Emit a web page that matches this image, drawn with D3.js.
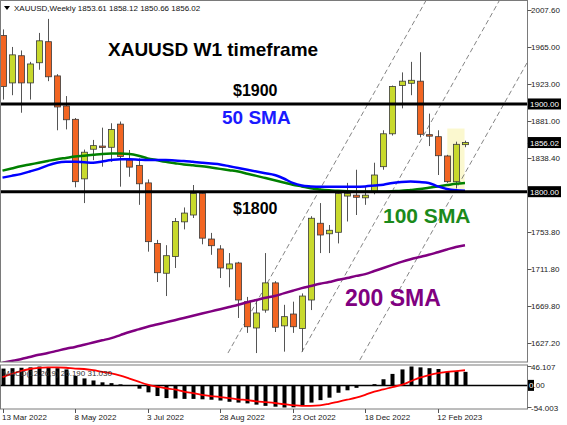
<!DOCTYPE html>
<html><head><meta charset="utf-8">
<script src="https://cdn.jsdelivr.net/npm/d3@7"></script>
<style>body{margin:0;background:#fff}svg{display:block}text{font-family:"Liberation Sans",Arial,sans-serif}</style>
</head><body>
<svg id="c" width="567" height="425"></svg>
<script>
// ---- data (weekly XAUUSD, 13 Mar 2022 .. 5 Mar 2023) ----
const openP  = [1978,1924,1955,1924,1947,1971,1932,1897.7,1882.5,1814.6,1848.4,1852,1850.6,1877,1836,1830,1810,1741,1707,1726,1765.6,1773.4,1798,1746,1734.7,1712,1718.7,1674.6,1644.6,1665,1696,1647,1660.5,1644,1676.5,1764,1752,1753.7,1795,1796,1793,1800,1828.5,1866,1921,1923.6,1926,1865,1862.7,1840.7,1811.4,1853.61];
const highP  = [1985,1965,1961,1948,1981,1997,1934,1909,1884,1848,1859,1873,1878,1880,1847.5,1838,1814,1745,1739,1770,1782,1807.6,1800,1753,1739,1730,1720,1680,1676,1730,1698,1671,1674.6,1684,1772,1787,1762,1800,1810,1825,1806,1833,1870,1921,1936,1948,1959,1889,1870,1842,1857,1858.12];
const lowP   = [1905,1910,1890,1905,1939,1926,1870,1871,1805,1787,1836,1828.5,1834,1805.7,1817,1785,1731.6,1697,1681,1713,1757,1770,1740,1728,1701.6,1691,1656,1639,1616,1662,1640,1617.6,1639,1617.6,1665,1730,1730,1741,1766,1773.4,1785,1797,1825,1864,1895,1910,1862,1852,1819,1810,1804,1850.66];
const closeP = [1920,1956,1924,1945.6,1972,1931,1896.6,1882,1811.4,1845,1852.5,1851,1871,1840,1828,1809,1743,1707.6,1727,1766,1775.6,1798,1747,1738.4,1713,1717.6,1676.5,1646,1661.7,1696,1645.4,1657.5,1646,1681,1769.7,1750.6,1756,1798,1798,1793.6,1796,1819,1866,1920,1926,1927,1865.4,1864,1841,1811.4,1854,1856.02];
const sma50  = [1816,1818,1820,1823,1826,1830,1833,1834,1834,1833.5,1833,1834.5,1836,1837,1837,1836.5,1836,1836,1836,1835.5,1835,1834,1833,1832,1831,1829,1827,1825,1823,1821,1819,1815,1810,1807,1806,1805.5,1805.5,1805.5,1805.5,1805.5,1806,1807,1808,1810,1811,1811.5,1811,1810,1806,1803,1801.5,1801];
const sma100 = [1824,1826.5,1829,1831,1833,1835,1837,1838.5,1840,1841,1842,1843,1843.5,1843.5,1843,1841,1838,1836,1834,1832.5,1831,1830,1829,1827.5,1826,1824.5,1823,1820.5,1818,1815.5,1813,1810.5,1808,1806,1804,1802.5,1801.5,1801,1800.5,1800,1800,1800,1800,1800.5,1801,1802,1803,1804.5,1806,1807.5,1809,1810];
const sma200 = [1605,1607,1609,1611.5,1614,1616,1618.5,1621,1623,1625.5,1628,1630.5,1633,1636.5,1640,1643,1646,1648.5,1651,1653.5,1656,1658.5,1661,1663.5,1666,1668.5,1671,1674,1676.5,1679,1681,1684,1687,1690,1692.5,1695,1697,1699.5,1701.5,1704,1706,1709.5,1713,1716.5,1720,1723,1725.5,1728,1731,1734,1737,1739];
const macdHist = [41,42,43,44,46,44,42,39,23,17,12,7.5,5.5,2.5,-1.5,-8,-17,-26,-31,-32,-33,-33,-34,-35,-37,-40,-42,-44,-47,-50,-52,-54.003,-53.5,-48,-42,-36,-30,-18,-12,-6,-1.5,3,15,28,39,46.107,44,42,40,33,35,33];
const macdSignal = [20,28,35,40,43,44,44,43,41,40,37,33,29.5,24,16.6,9,2,-3,-7,-10,-15,-19,-23,-26,-28.5,-31,-34,-36,-39,-41,-43,-46,-48,-50,-50,-49,-45,-40,-35,-30,-23,-15,-10,-4,1,10,19,25,30,33,35,37];
const dateTickIdx = [0,8,16,24,32,40,48];
const dateTickLabels = ["13 Mar 2022","8 May 2022","3 Jul 2022","28 Aug 2022","23 Oct 2022","18 Dec 2022","12 Feb 2023"];
const priceTicks = [2007.60,1965.00,1923.00,1881.00,1838.40,1753.80,1711.80,1669.80,1627.20];
const priceMarked = [1900.00,1856.02,1800.00];
const levelLines = [1900,1800];
const macdTicks = [46.107,-54.003];
// channel lines: [startIdx,startPrice,endIdx,endPrice]
const channelLines = [[24.86,1616,46.7,2018],[33,1617,54.9,2020],[39.4,1608,57.9,1948]];
const highlightBox = [49.05,50.95,1872,1801];

// ---- layout ----
const svg = d3.select('#c');
const L=0.5, R=527.5, T=0.5, B=362;
const MT=365, MB=409;
const x = d3.scaleLinear().domain([0,51]).range([2.5,465]);
const y = d3.scaleLinear().domain([1605.8,2017.4]).range([362,1]);
const ym = d3.scaleLinear().domain([-54.003,46.107]).range([407.5,366.5]);
const bull='#c8d92c', bear='#f26522';

svg.append('rect').attr('width',567).attr('height',425).attr('fill','#fff');
const defs=svg.append('defs');
defs.append('clipPath').attr('id','cp').append('rect').attr('x',L).attr('y',T).attr('width',R-L).attr('height',B-T);
defs.append('clipPath').attr('id','cpm').append('rect').attr('x',L).attr('y',MT).attr('width',R-L).attr('height',MB-MT);

const g = svg.append('g').attr('clip-path','url(#cp)');
g.append('rect').attr('x',x(highlightBox[0])).attr('width',x(highlightBox[1])-x(highlightBox[0]))
 .attr('y',y(highlightBox[2])).attr('height',y(highlightBox[3])-y(highlightBox[2])).attr('fill','#fbf8cf');
g.selectAll('.ch').data(channelLines).enter().append('line')
 .attr('x1',d=>x(d[0])).attr('y1',d=>y(d[1])).attr('x2',d=>x(d[2])).attr('y2',d=>y(d[3]))
 .attr('stroke','#777').attr('stroke-width',0.9).attr('stroke-dasharray','5,3');
const idx=d3.range(openP.length);
g.selectAll('.wk').data(idx).enter().append('line')
 .attr('x1',i=>Math.round(x(i))+0.5).attr('x2',i=>Math.round(x(i))+0.5)
 .attr('y1',i=>y(highP[i])).attr('y2',i=>y(lowP[i])).attr('stroke','#555').attr('stroke-width',1);
g.selectAll('.bd').data(idx).enter().append('rect')
 .attr('x',i=>Math.round(x(i))-2.5).attr('width',6)
 .attr('y',i=>y(Math.max(openP[i],closeP[i])))
 .attr('height',i=>Math.max(1.5,Math.abs(y(openP[i])-y(closeP[i]))))
 .attr('fill',i=>closeP[i]>=openP[i]?bull:bear).attr('stroke','#3a3a3a').attr('stroke-width',0.8);
const line=(arr)=>d3.line().x((d,i)=>x(i)).y(d=>y(d)).curve(d3.curveMonotoneX)(arr);
g.append('path').attr('d',line(sma200)).attr('fill','none').attr('stroke','#800080').attr('stroke-width',2.5);
g.append('path').attr('d',line(sma100)).attr('fill','none').attr('stroke','#008000').attr('stroke-width',2.5);
g.append('path').attr('d',line(sma50)).attr('fill','none').attr('stroke','#0000ff').attr('stroke-width',2.5);
svg.selectAll('.lv').data(levelLines).enter().append('line')
 .attr('x1',L).attr('x2',R).attr('y1',d=>y(d)).attr('y2',d=>y(d)).attr('stroke','#000').attr('stroke-width',3);

svg.append('rect').attr('x',L).attr('y',T).attr('width',R-L).attr('height',B-T).attr('fill','none').attr('stroke','#7a7a7a').attr('stroke-width',1);
svg.append('rect').attr('x',L).attr('y',MT).attr('width',R-L).attr('height',MB-MT).attr('fill','none').attr('stroke','#7a7a7a').attr('stroke-width',1);

const gm=svg.append('g').attr('clip-path','url(#cpm)');
gm.append('line').attr('x1',L).attr('x2',R).attr('y1',ym(0)).attr('y2',ym(0)).attr('stroke','#000').attr('stroke-width',1.5);
gm.selectAll('.mb').data(idx).enter().append('rect')
 .attr('x',i=>Math.round(x(i))-1.5).attr('width',4)
 .attr('y',i=>Math.min(ym(0),ym(macdHist[i]))).attr('height',i=>Math.abs(ym(macdHist[i])-ym(0)))
 .attr('fill','#000');
gm.append('path').attr('d',d3.line().x((d,i)=>x(i)).y(d=>ym(d)).curve(d3.curveMonotoneX)(macdSignal))
 .attr('fill','none').attr('stroke','#ff0000').attr('stroke-width',1.8);
svg.append('text').attr('x',3).attr('y',376).attr('font-size',8).attr('fill','#333').text('MACD(12,26,9) 26.190 31.030');

const fs=8;
svg.selectAll('.pt').data(priceTicks.concat(priceMarked)).enter().append('line')
 .attr('x1',R).attr('x2',R+4).attr('y1',d=>Math.round(y(d))+0.5).attr('y2',d=>Math.round(y(d))+0.5).attr('stroke','#555');
svg.selectAll('.pl').data(priceTicks).enter().append('text')
 .attr('x',531).attr('y',d=>y(d)+3).attr('font-size',fs).attr('fill','#222').text(d=>d.toFixed(2));
priceMarked.forEach(v=>{
  svg.append('rect').attr('x',528).attr('y',y(v)-5.5).attr('width',33).attr('height',11).attr('fill','#000');
  svg.append('text').attr('x',530).attr('y',y(v)+3).attr('font-size',fs).attr('fill','#fff').text(v.toFixed(2));
});
svg.selectAll('.mt').data(macdTicks.concat([0])).enter().append('line')
 .attr('x1',R).attr('x2',R+4).attr('y1',d=>ym(d)).attr('y2',d=>ym(d)).attr('stroke','#555');
svg.selectAll('.ml').data(macdTicks).enter().append('text')
 .attr('x',531).attr('y',d=>ym(d)+3).attr('font-size',fs).attr('fill','#222').text(d=>d.toFixed(3));
svg.append('rect').attr('x',528).attr('y',ym(0)-5.5).attr('width',6).attr('height',11).attr('fill','#000');
const zt=svg.append('text').attr('x',529).attr('y',ym(0)+3).attr('font-size',fs).attr('fill','#222');
zt.append('tspan').attr('fill','#fff').text('0');
zt.append('tspan').text('.00');

svg.selectAll('.dt').data(dateTickIdx).enter().append('line')
 .attr('x1',i=>Math.round(x(i))+0.5).attr('x2',i=>Math.round(x(i))+0.5).attr('y1',MB).attr('y2',MB+4).attr('stroke','#555');
svg.selectAll('.dl').data(dateTickIdx).enter().append('text')
 .attr('x',i=>x(i)-0.5).attr('y',420).attr('font-size',fs).attr('fill','#222').text((d,k)=>dateTickLabels[k]);

svg.append('path').attr('d','M4,6 L10,6 L7,10 Z').attr('fill','#000');
svg.append('text').attr('x',14).attr('y',11).attr('font-size',fs).attr('fill','#111')
 .text('XAUUSD,Weekly  1853.61 1858.12 1850.66 1856.02');

const ann=[
 {t:'XAUUSD W1 timeframe',x:108,y:56,s:19,c:'#000'},
 {t:'$1900',x:233,y:96,s:16,c:'#000'},
 {t:'50 SMA',x:222,y:124,s:19,c:'#1a1aff'},
 {t:'$1800',x:233,y:214,s:16,c:'#000'},
 {t:'100 SMA',x:383,y:223,s:21,c:'#1b8a1b'},
 {t:'200 SMA',x:345,y:306,s:23,c:'#800080'}
];
svg.selectAll('.an').data(ann).enter().append('text')
 .attr('x',d=>d.x).attr('y',d=>d.y).attr('font-size',d=>d.s).attr('font-weight','bold').attr('fill',d=>d.c).text(d=>d.t);
</script>
</body></html>
